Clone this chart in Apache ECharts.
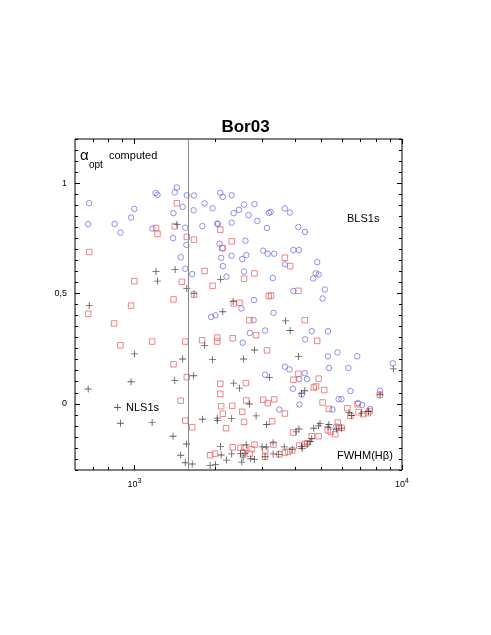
<!DOCTYPE html>
<html>
<head>
<meta charset="utf-8">
<script src="https://cdn.jsdelivr.net/npm/echarts@6.0.0/dist/echarts.min.js"></script>
<style>
html, body { margin: 0; padding: 0; background: #fff; }
#chart { width: 491px; height: 635px; }
</style>
</head>
<body>
<div id="chart"></div>
<script>
// BLS1s (circles)
const blsFwhm = [678, 672, 844, 887, 1000, 972, 1200, 1220, 1167, 1442, 1415, 1400, 1395, 1570, 1515, 1550, 1565, 1490, 1550, 1670,
	1665, 1645, 1795, 1830, 1960, 2040, 2050, 2094, 2140, 2080, 2140, 2110, 2140, 2210,
	2310, 2570, 2810, 2350, 2460, 2670, 2310, 2880, 3180, 3230, 3650, 3810, 3130, 4100, 4340, 2600, 2310, 2530, 2620, 3030,
	3150, 3330, 3930, 4120, 3650, 4820, 2570, 3290, 4660, 4760, 4880, 3930, 5150, 5050,
	1935, 2010,
	2800, 2510, 3310, 2790, 2700, 3080, 2540, 4350, 4600, 5290, 5740, 6800, 5290, 5340, 6300, 9240, 3650, 3800, 3080, 4130,
	4330, 4420, 3910, 4220, 6420, 8280, 5800, 5940, 4140, 3480, 5500, 6850, 7100, 7600, 5680];
const blsAlpha = [0.909, 0.814, 0.815, 0.776, 0.883, 0.844, 0.955, 0.947, 0.794, 0.980, 0.958, 0.864, 0.751, 0.945, 0.892, 0.798, 0.720, 0.664, 0.612, 0.944,
	0.877, 0.588, 0.805, 0.908, 0.886, 0.817, 0.814, 0.956, 0.938, 0.726, 0.705, 0.662, 0.624, 0.576,
	0.945, 0.903, 0.905, 0.864, 0.879, 0.855, 0.821, 0.829, 0.865, 0.870, 0.885, 0.867, 0.797, 0.801, 0.779, 0.739, 0.671, 0.656, 0.674, 0.694,
	0.680, 0.680, 0.697, 0.697, 0.632, 0.642, 0.599, 0.570, 0.568, 0.591, 0.586, 0.511, 0.518, 0.477,
	0.394, 0.401,
	0.470, 0.432, 0.412, 0.379, 0.321, 0.332, 0.277, 0.292, 0.329, 0.329, 0.233, 0.215, 0.215, 0.162, 0.162, 0.183, 0.168, 0.156, 0.132, 0.112,
	0.139, 0.112, 0.068, 0.042, 0.058, 0.059, 0.021, 0.021, -0.003, -0.026, -0.026, 0.003, -0.006, -0.024, -0.103];

// squares
const sqFwhm = [678, 1000, 1205, 1220, 1415, 1442, 1570, 1670, 1505, 1830, 1670, 1960, 2094, 2130, 1400,
	2310, 3650, 3820, 2810, 2570, 3180, 3240, 4100,
	672, 972, 840, 887, 1165, 1400, 1550, 1570, 1490, 1550, 1645, 1790, 2040, 2040, 2094, 2094, 2110, 2140, 2200, 1920, 2000,
	2350, 2470, 2690, 4330, 2330, 2850, 3130, 4820, 2610, 3930, 4100, 4880, 4680, 4770, 5120, 8260, 2320, 2620, 3030, 3150,
	3330, 5050, 2530, 2570, 3650, 3270, 5330, 6250, 6820, 6420, 6880, 7160, 7460, 7560, 3920, 5750, 5280, 5420, 5630, 5800,
	5950, 4600, 4880, 4130, 4340, 4420, 3890, 3760, 3650, 3480, 3310, 3080, 3080, 2810, 2740, 2700, 2580, 2490, 2550, 2330];
const sqAlpha = [0.688, 0.556, 0.797, 0.770, 0.805, 0.909, 0.756, 0.744, 0.553, 0.602, 0.495, 0.535, 0.789, 0.706, 0.473,
	0.736, 0.662, 0.624, 0.591, 0.567, 0.488, 0.491, 0.512,
	0.408, 0.445, 0.364, 0.265, 0.282, 0.179, 0.282, 0.121, 0.014, -0.076, -0.106, 0.288, 0.300, 0.282, 0.091, 0.045, -0.011, -0.045, -0.111, -0.233, -0.226,
	0.455, 0.458, 0.379, 0.379, 0.297, 0.311, 0.242, 0.285, 0.094, 0.109, 0.136, 0.114, 0.074, 0.079, 0.062, 0.041, -0.009, 0.015, 0.018, 0.003,
	0.020, 0.006, -0.036, -0.082, -0.044, -0.079, -0.023, -0.020, -0.002, -0.055, -0.038, -0.047, -0.042, -0.033, -0.130, -0.085, -0.120, -0.127, -0.138, -0.108,
	-0.109, -0.147, -0.147, -0.189, -0.182, -0.179, -0.211, -0.217, -0.221, -0.229, -0.185, -0.211, -0.240, -0.185, -0.206, -0.226, -0.199, -0.199, -0.221, -0.197];

// NLS1s (plus)
const nlsFwhm = [1442, 1205, 1220, 1420, 1570, 1670, 2100,
	678, 672, 1000, 972, 887, 1165, 1515, 1415, 1665, 1830, 1960, 2140, 1795, 2040, 2040, 1395, 1565, 1490, 1550, 1645, 1920, 2010, 2100,
	2110, 2210,
	2340, 3670, 3820, 2810, 2560, 4100, 2350, 2470, 3200, 4330, 4210, 2690, 2310, 2850, 3120, 4120, 4020, 4680, 4940, 5330,
	5290, 6340, 6480, 7060, 7500, 8280, 9280, 4540, 4600, 4420, 4210, 4240, 3300, 3630, 3890, 3000, 3110, 3080, 3460, 3300,
	2620, 2490, 2550, 2590, 2720, 2810, 2520, 2310, 4880, 5700, 5950];
const nlsAlpha = [0.812, 0.599, 0.556, 0.609, 0.523, 0.499, 0.564,
	0.445, 0.067, 0.226, 0.100, -0.088, -0.085, 0.203, 0.106, 0.127, 0.265, 0.200, 0.417, -0.070, -0.065, -0.076, -0.147, -0.182, -0.233, -0.267, -0.273, -0.280, -0.276, -0.194,
	-0.232, -0.255,
	0.464, 0.376, 0.332, 0.244, 0.203, 0.214, 0.094, 0.071, 0.120, 0.059, 0.047, -0.001, -0.067, -0.055, -0.094, -0.114, -0.127, -0.111, -0.090, -0.094,
	-0.105, -0.039, -0.053, -0.042, -0.035, 0.041, 0.158, -0.171, -0.158, -0.183, -0.194, -0.203, -0.177, -0.195, -0.206, -0.195, -0.195, -0.240, -0.229, -0.227,
	-0.186, -0.226, -0.242, -0.224, -0.249, -0.252, -0.264, -0.227, -0.100, -0.115, -0.110];

const xMajor = [1000, 10000];
const xMajorExp = ['3', '4'];
const xMinor = [700, 800, 900, 2000, 3000, 4000, 5000, 6000, 7000, 8000, 9000];
const yMajor = [0, 0.5, 1];
const fwhmLimit = 1590;

const zip = (xs, ys) => xs.map((x, i) => [x, ys[i]]);
const plus = 'path://M0,4.4H10V5.6H0Z M4.4,0H5.6V10H4.4Z';
const font = 'Liberation Sans, Arial, sans-serif';

const xBase = (pos, ticks, len, labels) => ({
	type: 'log',
	logBase: 10,
	min: 600,
	max: 10000,
	position: pos,
	axisLine: { show: false, onZero: false },
	splitLine: { show: false },
	axisTick: { inside: true, length: len, customValues: ticks, lineStyle: { color: '#000' } },
	axisLabel: labels ? {
		customValues: xMajor,
		margin: 8,
		formatter: v => '{b|10}{s|' + (v > 5000 ? xMajorExp[1] : xMajorExp[0]) + '}',
		rich: {
			b: { fontSize: 9, fontFamily: font, color: '#000' },
			s: { fontSize: 7, fontFamily: font, color: '#000', padding: [0, 0, 6, 0] }
		}
	} : { show: false }
});
const yBase = (pos, len, labels) => ({
	type: 'value',
	min: -0.3,
	max: 1.2,
	interval: 0.05,
	position: pos,
	axisLine: { show: false, onZero: false },
	splitLine: { show: false },
	axisTick: labels !== null ? { inside: true, length: len, customValues: yMajor, lineStyle: { color: '#000' } }
		: { inside: true, length: len, lineStyle: { color: '#000' } },
	axisLabel: labels ? {
		customValues: yMajor,
		margin: 8,
		fontSize: 9,
		fontFamily: font,
		color: '#000',
		formatter: v => String(v).replace('.', ',')
	} : { show: false }
});

const chart = echarts.init(document.getElementById('chart'));
chart.setOption({
	animation: false,
	backgroundColor: '#fff',
	title: {
		text: 'Bor03',
		left: 'center',
		top: 114,
		textStyle: { fontSize: 17, fontWeight: 'bold', fontFamily: font, color: '#000' }
	},
	legend: {
		data: ['NLS1s'],
		left: 109,
		top: 397,
		itemWidth: 7,
		itemHeight: 7,
		textStyle: { fontSize: 11, fontFamily: font, color: '#000' }
	},
	grid: {
		left: 75,
		right: 89,
		top: 139,
		bottom: 165,
		show: true,
		borderColor: '#000',
		borderWidth: 1
	},
	xAxis: [
		xBase('bottom', xMajor, 5, true),
		xBase('bottom', xMinor, 3, false),
		xBase('top', xMajor, 5, false),
		xBase('top', xMinor, 3, false)
	],
	yAxis: [
		yBase('left', 5, true),
		yBase('left', 3, null),
		yBase('right', 5, false),
		yBase('right', 3, null)
	],
	graphic: [
		{ type: 'text', x: 80, y: 156, style: { text: 'α', font: '15px ' + font, fill: '#000', textVerticalAlign: 'middle' } },
		{ type: 'text', x: 89, y: 165, style: { text: 'opt', font: '10px ' + font, fill: '#000', textVerticalAlign: 'middle' } },
		{ type: 'text', x: 109, y: 156, style: { text: 'computed', font: '11px ' + font, fill: '#000', textVerticalAlign: 'middle' } },
		{ type: 'text', x: 347, y: 219, style: { text: 'BLS1s', font: '11px ' + font, fill: '#000', textVerticalAlign: 'middle' } },
		{ type: 'text', x: 337, y: 456, style: { text: 'FWHM(Hβ)', font: '11px ' + font, fill: '#000', textVerticalAlign: 'middle' } }
	],
	series: [
		{
			name: 'BLS1s',
			type: 'scatter',
			symbol: 'circle',
			symbolSize: 5.5,
			itemStyle: { color: 'none', borderColor: '#6464e8', borderWidth: 0.9 },
			data: zip(blsFwhm, blsAlpha),
			markLine: {
				silent: true,
				symbol: 'none',
				label: { show: false },
				lineStyle: { color: '#888', width: 1, type: 'solid' },
				data: [{ xAxis: fwhmLimit }]
			}
		},
		{
			name: 'computed',
			type: 'scatter',
			symbol: 'rect',
			symbolSize: 5.5,
			itemStyle: { color: 'none', borderColor: '#e65a5a', borderWidth: 0.9 },
			data: zip(sqFwhm, sqAlpha)
		},
		{
			name: 'NLS1s',
			type: 'scatter',
			symbol: plus,
			symbolSize: 7,
			itemStyle: { color: '#333' },
			data: zip(nlsFwhm, nlsAlpha)
		}
	]
});
</script>
</body>
</html>
